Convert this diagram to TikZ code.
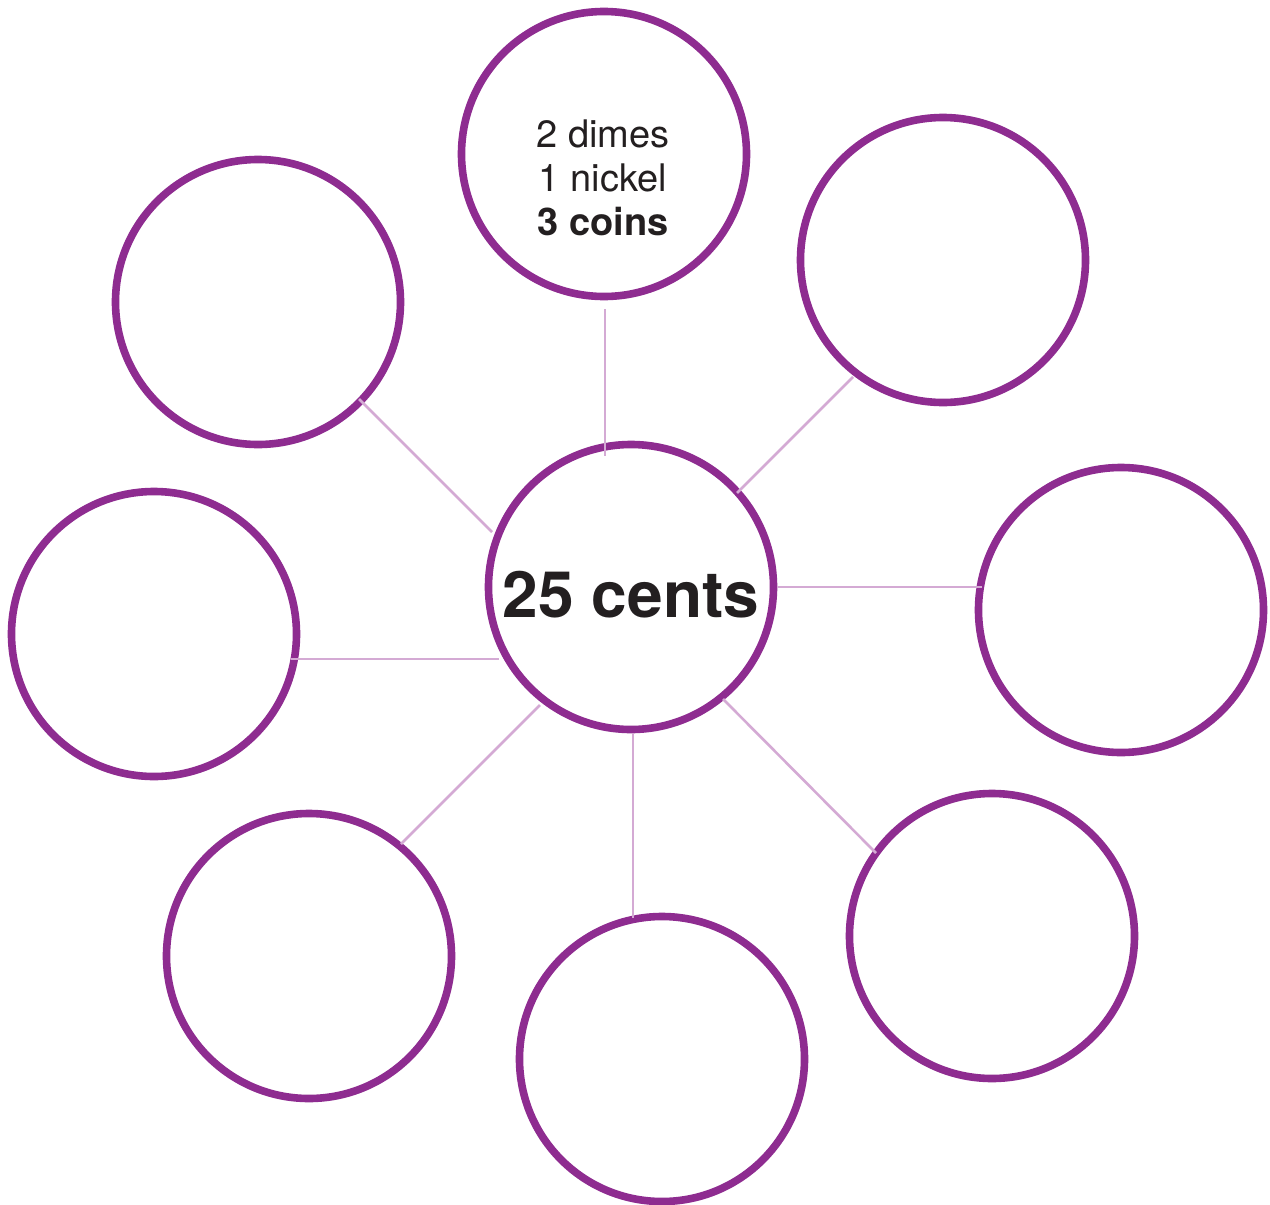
\documentclass[tikz,border=0pt]{standalone}
\usepackage{fontspec}
\setmainfont{TeX Gyre Heros}
\definecolor{ringpurple}{HTML}{8E2C90}
\definecolor{linkpurple}{HTML}{D4AAD4}
\definecolor{inkdark}{HTML}{231F20}
\begin{document}
\begin{tikzpicture}[x={0.5pt},y={-0.5pt},
  ring/.style={circle,draw=ringpurple,line width=3.8pt,minimum size=142.5pt,inner sep=0pt},
  link/.style={draw=linkpurple,line width=1.3pt},
  smalltxt/.style={anchor=base,inner sep=0pt,text=inkdark,font=\fontsize{19}{22}\selectfont},
  bigtxt/.style={anchor=base,inner sep=0pt,text=inkdark,font=\fontsize{32}{36}\selectfont\bfseries}]
\useasboundingbox (0,0) rectangle (1270,1205);
\fill[white] (0,0) rectangle (1270,1205);
% circles
\node[ring] (c)  at (631,587) {};
\node[ring] (n)  at (604,154) {};
\node[ring] (nw) at (258,302) {};
\node[ring] (ne) at (943,260) {};
\node[ring] (e)  at (1121,610) {};
\node[ring] (w)  at (154,634) {};
\node[ring] (sw) at (309,956) {};
\node[ring] (s)  at (662,1059) {};
\node[ring] (se) at (992,936) {};
% texts
\node[smalltxt] (t1) at (603,147) {2 dimes};
\node[smalltxt] (t2) at (603,191) {1 nickel};
\node[smalltxt] (t3) at (603,235) {\bfseries 3 coins};
\node[bigtxt] (tc) at (631,617) {25 cents};
% connector end points
\coordinate (nA) at (605,309);  \coordinate (nB) at (605,456);
\coordinate (neA) at (853,377); \coordinate (neB) at (737,493);
\coordinate (eA) at (777,587);  \coordinate (eB) at (982,587);
\coordinate (seA) at (723,699); \coordinate (seB) at (876,853);
\coordinate (sA) at (633,733);  \coordinate (sB) at (633,918);
\coordinate (swA) at (540,705); \coordinate (swB) at (401,844);
\coordinate (wA) at (291,659);  \coordinate (wB) at (499,659);
\coordinate (nwA) at (359,399); \coordinate (nwB) at (492,532);
% connectors
\draw[link] (nA) -- (nB);
\draw[link] (neA) -- (neB);
\draw[link] (eA) -- (eB);
\draw[link] (seA) -- (seB);
\draw[link] (sA) -- (sB);
\draw[link] (swA) -- (swB);
\draw[link] (wA) -- (wB);
\draw[link] (nwA) -- (nwB);
\end{tikzpicture}
\end{document}
